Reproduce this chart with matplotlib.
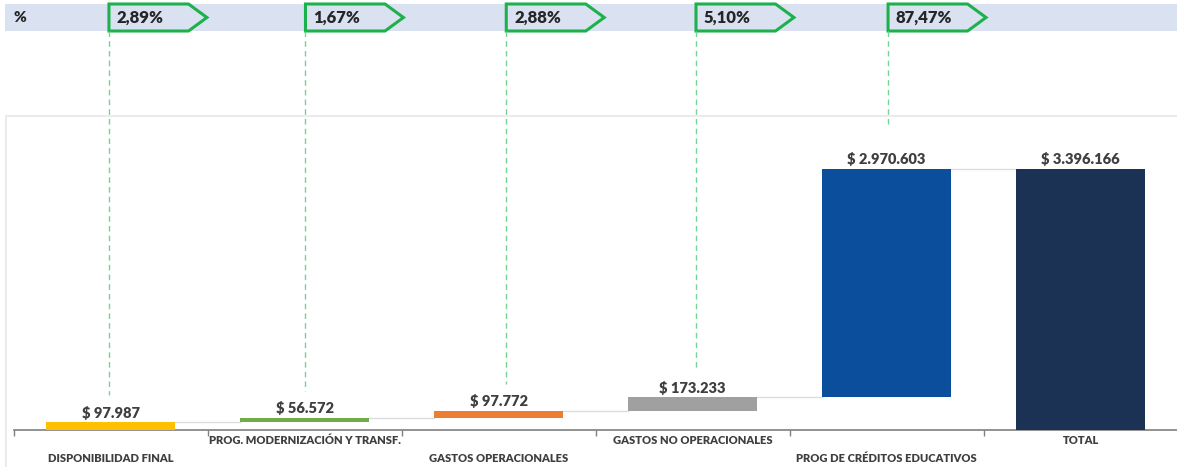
import numpy as np
import matplotlib.pyplot as plt
from matplotlib.patches import Polygon, Rectangle
from matplotlib.lines import Line2D
import matplotlib.transforms as mtransforms

plt.rcParams['font.family'] = ['Lato', 'DejaVu Sans']

# data
categories = ['DISPONIBILIDAD FINAL', 'PROG. MODERNIZACIÓN Y TRANSF.',
              'GASTOS OPERACIONALES', 'GASTOS NO OPERACIONALES',
              'PROG DE CRÉDITOS EDUCATIVOS', 'TOTAL']
values = [97987, 56572, 97772, 173233, 2970603, 3396166]
value_labels = ['$ 97.987', '$ 56.572', '$ 97.772', '$ 173.233',
                '$ 2.970.603', '$ 3.396.166']
pct_labels = ['2,89%', '1,67%', '2,88%', '5,10%', '87,47%']
colors = ['#FFC000', '#70AD47', '#ED7D31', '#A0A0A0', '#0B4F9C', '#1B3255']

# waterfall bases
bases = [0]
for v in values[:4]:
    bases.append(bases[-1] + v)
bases.append(0)
tops = [b + v for b, v in zip(bases, values)]

W, H = 1177, 467
fig = plt.figure(figsize=(W / 100, H / 100), dpi=100)

# top % band
fig.patches.append(Rectangle((5 / W, 1 - 31 / H), 1 - 5 / W, 27 / H,
                             transform=fig.transFigure, facecolor='#DAE2F2',
                             edgecolor='none', zorder=-2))
fig.text(14 / W, 1 - 18 / H, '%', fontsize=11, fontweight='heavy',
         color='#262626', va='center', ha='left')

# plot area frame (top and left)
frame_col = '#E8E8E8'
fig.lines.append(Line2D([6 / W, 1], [1 - 116 / H, 1 - 116 / H],
                        transform=fig.transFigure, color=frame_col, lw=1.2,
                        zorder=-2))
fig.lines.append(Line2D([6 / W, 6 / W], [0, 1 - 116 / H],
                        transform=fig.transFigure, color=frame_col, lw=1.2,
                        zorder=-2))

ax = fig.add_axes([13.5 / W, 1 - 430 / H, (1177.5 - 13.5) / W, (430 - 116) / H])
ax.patch.set_alpha(0)
x = np.arange(len(categories))
bar_w = 0.665
ax.bar(x, values, bottom=bases, width=bar_w, color=colors, zorder=3)

ax.set_xlim(-0.5, len(categories) - 0.5)
ax.set_ylim(0, 3396166 * 314 / 261)

# connectors
for i in range(len(categories) - 1):
    ax.plot([x[i] + bar_w / 2, x[i + 1] - bar_w / 2], [tops[i], tops[i]],
            color='#DCDCDC', lw=1, zorder=2)

# value labels
for i, lab in enumerate(value_labels):
    ax.annotate(lab, (x[i], tops[i]), xytext=(0, 2), textcoords='offset points',
                ha='center', va='bottom', fontsize=10.5, fontweight='heavy',
                color='#3F3F3F')

# axis styling
for s in ['top', 'right', 'left']:
    ax.spines[s].set_visible(False)
ax.spines['bottom'].set_color('#7F7F7F')
ax.spines['bottom'].set_linewidth(1.2)
ax.set_yticks([])
ax.set_xticks(np.arange(-0.5, len(categories), 1.0))
ax.set_xticklabels([])
ax.tick_params(axis='x', length=4, color='#7F7F7F', width=1)

trans = mtransforms.blended_transform_factory(ax.transData, fig.transFigure)
for i, cat in enumerate(categories):
    yy = 1 - (458 if i % 2 == 0 else 441) / H
    ax.text(x[i], yy, cat, transform=trans, ha='center', va='center',
            fontsize=8, fontweight='heavy', color='#3F3F3F')

# percentage tags + dashed leader lines (small horizontal nudges as in source)
tag_shift = [-0.008, 0.005, 0.04, 0.018, 0.008]
tag_top, tag_bot = 1 - 4 / H, 1 - 31 / H
tag_mid = (tag_top + tag_bot) / 2
for i, p in enumerate(pct_labels):
    x0 = x[i] + tag_shift[i]
    poly = Polygon([(x0, tag_top), (x0 + 0.41, tag_top), (x0 + 0.505, tag_mid),
                    (x0 + 0.41, tag_bot), (x0, tag_bot)], closed=True,
                   transform=trans, facecolor='none', edgecolor='#1DB14B',
                   lw=2.2, clip_on=False, zorder=5)
    ax.add_patch(poly)
    ax.text(x0 + 0.04, tag_mid, p, transform=trans, ha='left', va='center',
            fontsize=12, fontweight='heavy', color='#262626')
    # end of leader line a bit above value label
    ypix = ax.transData.transform((x0, tops[i]))[1]
    yend = (ypix + (43 if i == 4 else 27)) / H
    fig.lines.append(Line2D([x0, x0], [tag_bot, yend], transform=trans,
                            color='#74D494', lw=1, ls=(0, (4, 3))))

fig.savefig('out.png', dpi=100)
